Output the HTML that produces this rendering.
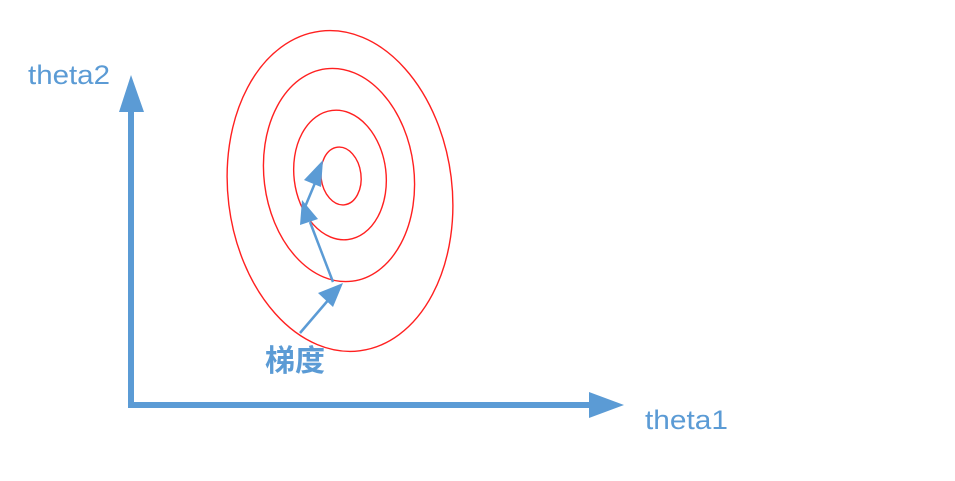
<!DOCTYPE html>
<html><head><meta charset="utf-8"><style>
html,body{margin:0;padding:0;background:#fff;width:955px;height:481px;overflow:hidden}
</style></head><body>
<svg width="955" height="481" viewBox="0 0 955 481" style="font-family:'Liberation Sans','Noto Sans CJK SC',sans-serif">
<g fill="none" stroke="#ff2020" stroke-width="1.4">
<ellipse cx="340" cy="191" rx="112" ry="161" transform="rotate(-7 340 191)"/>
<ellipse cx="339" cy="175" rx="75" ry="107" transform="rotate(-7 339 175)"/>
<ellipse cx="340" cy="175" rx="46" ry="65" transform="rotate(-7 340 175)"/>
<ellipse cx="341" cy="176" rx="20" ry="29" transform="rotate(-7 341 176)"/>
</g>
<g fill="#5b9bd5">
<rect x="128" y="108" width="6" height="300"/>
<polygon points="131,75 119,112 144,112"/>
</g>
<g fill="#5b9bd5">
<rect x="128" y="402" width="465" height="6"/>
<polygon points="624,405 589,392 589,418"/>
</g>
<text x="28" y="84" font-size="27" textLength="82" lengthAdjust="spacingAndGlyphs" fill="#5b9bd5">theta2</text>
<text x="645" y="429" font-size="27" textLength="83" lengthAdjust="spacingAndGlyphs" fill="#5b9bd5">theta1</text>
<g stroke="#5b9bd5" stroke-width="2.5" fill="#5b9bd5">
<line x1="300" y1="333" x2="330" y2="298"/>
<polygon stroke="none" points="343,283 318,293 333,307"/>
<line x1="333" y1="282" x2="310" y2="222"/>
<polygon stroke="none" points="302,200 300,225 318,219"/>
<line x1="305" y1="207" x2="315" y2="183"/>
<polygon stroke="none" points="323,160 304,180 321,187"/>
</g>
<text x="265" y="371" font-size="30" font-weight="bold" fill="#5b9bd5">梯度</text>
</svg>
</body></html>
